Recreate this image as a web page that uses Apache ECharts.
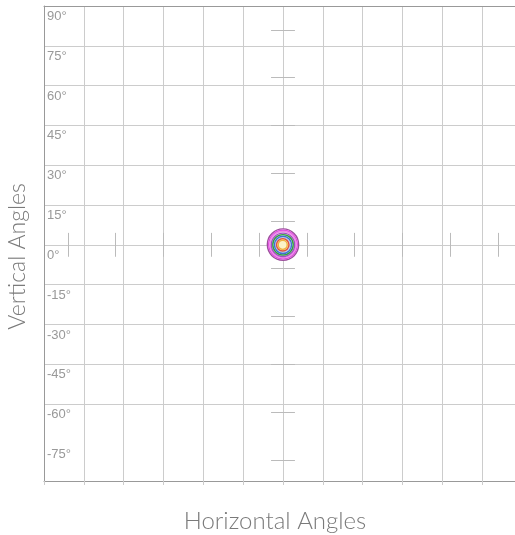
<!DOCTYPE html>
<html>
<head>
<meta charset="utf-8">
<script src="https://cdn.jsdelivr.net/npm/echarts@6/dist/echarts.min.js"></script>
<style>
  html, body { margin: 0; padding: 0; background: #fff; }
  #main { width: 515px; height: 535px; }
</style>
</head>
<body>
<div id="main"></div>
<script>
// axis ranges (degrees)
const xRange = [-90, 90];
const yRange = [-89, 90];
const yTickValues = [-75, -60, -45, -30, -15, 0, 15, 30, 45, 60, 75, 90];

// little crosshair scale marks along the 0 lines
const crossMarks = [-81, -63, -45, -27, -9, 9, 27, 45, 63, 81];
const crossHalf = 4.5;

// contour levels, outside -> inside (centre x, centre y, radius in degrees)
const contourX = [0, 0, 0, 0, 0, 0, -0.1, -0.1];
const contourY = [0.1, 0.1, 0.1, 0, 0, 0, 0, 0];
const contourR = [5.9, 5.4, 4.9, 4.4, 3.85, 3.25, 2.35, 1.7];

const ringStroke = ['#9b4f9b', '#e050e0', '#f088e8', '#a050c0', '#30a040', '#4070d0', '#e05040', '#f0b040'];
const ringFill = ['#ffffff', '#fbe3fb', '#ffffff', '#f3e6f7', '#e8f4e8', '#b8d0f4', '#f8e0a0', '#fbf3c8'];

const chart = echarts.init(document.getElementById('main'));

const contourData = contourR.map((r, i) => [contourX[i], contourY[i], r, i]);
const markData = [];
crossMarks.forEach(v => {
  markData.push({ coords: [[v, -crossHalf], [v, crossHalf]] });
  markData.push({ coords: [[-crossHalf, v], [crossHalf, v]] });
});

const nameFont = 'Lato, "Open Sans", sans-serif';

chart.setOption({
  animation: false,
  grid: { left: 44, top: 6, right: -7, bottom: 54, outerBoundsMode: 'none', containLabel: false },
  xAxis: [{
    type: 'value',
    min: xRange[0], max: xRange[1], interval: 15,
    name: 'Horizontal Angles',
    nameLocation: 'middle',
    nameGap: 28,
    nameTextStyle: { fontFamily: nameFont, fontWeight: 300, fontSize: 24, color: '#7a7a7a', padding: [0, 16, 0, 0] },
    axisLine: { onZero: false, lineStyle: { color: '#999' } },
    axisTick: { show: true, length: 4, lineStyle: { color: '#ccc' } },
    axisLabel: { show: false },
    splitLine: { show: true, showMinLine: false, lineStyle: { color: '#ccc' } }
  }, {
    type: 'value',
    position: 'top',
    min: xRange[0], max: xRange[1], interval: 15,
    axisLine: { show: true, onZero: false, lineStyle: { color: '#999' } },
    axisTick: { show: false },
    axisLabel: { show: false },
    splitLine: { show: false }
  }],
  yAxis: {
    type: 'value',
    min: yRange[0], max: yRange[1],
    name: 'Vertical Angles',
    nameLocation: 'middle',
    nameGap: 15,
    nameTextStyle: { fontFamily: nameFont, fontWeight: 300, fontSize: 23, color: '#7a7a7a', padding: [0, 26, 0, 0] },
    axisLine: { show: true, onZero: false, lineStyle: { color: '#999' } },
    axisTick: { show: false, customValues: yTickValues },
    axisLabel: {
      customValues: yTickValues,
      inside: true,
      margin: 3,
      verticalAlign: 'top',
      padding: [4, 0, 0, 0],
      fontSize: 13,
      fontFamily: '"Liberation Sans", Arial, sans-serif',
      color: '#999',
      formatter: '{value}°'
    },
    splitLine: { show: true, showMinLine: false, showMaxLine: false, lineStyle: { color: '#ccc' } }
  },
  series: [{
    type: 'lines',
    coordinateSystem: 'cartesian2d',
    silent: true,
    lineStyle: { color: '#bbb', width: 1, opacity: 1 },
    data: markData
  }, {
    type: 'custom',
    silent: true,
    data: contourData,
    renderItem: function (params, api) {
      const c = api.coord([api.value(0), api.value(1)]);
      const s = api.size([api.value(2), api.value(2)]);
      const i = api.value(3);
      return {
        type: 'circle',
        shape: { cx: c[0], cy: c[1], r: (s[0] + s[1]) / 2 },
        style: { fill: ringFill[i], stroke: ringStroke[i], lineWidth: 1.4 }
      };
    }
  }]
});
</script>
</body>
</html>
